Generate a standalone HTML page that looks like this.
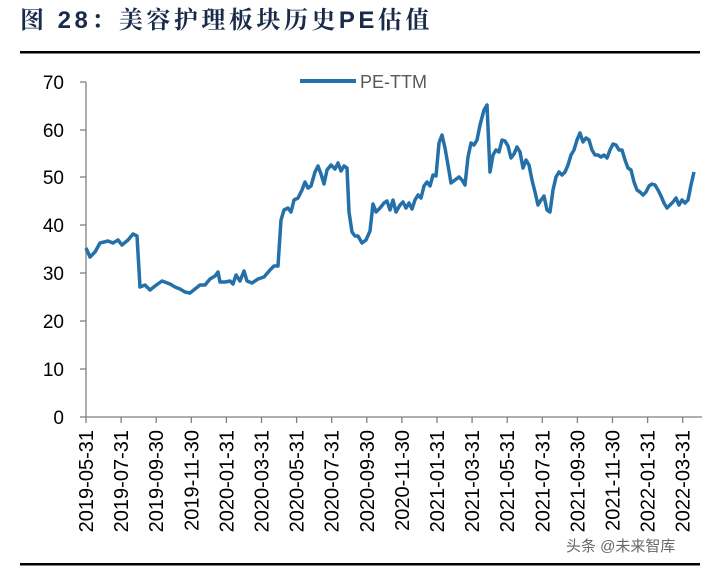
<!DOCTYPE html>
<html><head><meta charset="utf-8"><style>
body{margin:0;background:#fff;width:713px;height:569px;overflow:hidden}
</style></head><body>
<svg width="713" height="569" xmlns="http://www.w3.org/2000/svg" font-family="Liberation Sans, Arial, sans-serif">
<text x="20" y="28" font-size="24" font-weight="bold" fill="#1a2b4a" letter-spacing="3.5" font-family="Liberation Sans, Noto Serif CJK SC, Noto Sans CJK SC, sans-serif">图 28：美容护理板块历史PE估值</text>
<rect x="20" y="51" width="680" height="2.5" fill="#000"/>
<rect x="20" y="563" width="680" height="2.5" fill="#000"/>
<g stroke="#7f7f7f" stroke-width="1.3">
<line x1="86" y1="82" x2="86" y2="417"/>
<line x1="86" y1="417" x2="702" y2="417"/>
<line x1="80" y1="82" x2="86" y2="82"/><line x1="80" y1="130" x2="86" y2="130"/><line x1="80" y1="177" x2="86" y2="177"/><line x1="80" y1="225" x2="86" y2="225"/><line x1="80" y1="273" x2="86" y2="273"/><line x1="80" y1="321" x2="86" y2="321"/><line x1="80" y1="369" x2="86" y2="369"/><line x1="80" y1="417" x2="86" y2="417"/>
<line x1="86" y1="417" x2="86" y2="423"/><line x1="121.1" y1="417" x2="121.1" y2="423"/><line x1="156.2" y1="417" x2="156.2" y2="423"/><line x1="191.3" y1="417" x2="191.3" y2="423"/><line x1="226.4" y1="417" x2="226.4" y2="423"/><line x1="261.5" y1="417" x2="261.5" y2="423"/><line x1="296.6" y1="417" x2="296.6" y2="423"/><line x1="331.7" y1="417" x2="331.7" y2="423"/><line x1="366.8" y1="417" x2="366.8" y2="423"/><line x1="401.9" y1="417" x2="401.9" y2="423"/><line x1="437" y1="417" x2="437" y2="423"/><line x1="472.1" y1="417" x2="472.1" y2="423"/><line x1="507.2" y1="417" x2="507.2" y2="423"/><line x1="542.3" y1="417" x2="542.3" y2="423"/><line x1="577.4" y1="417" x2="577.4" y2="423"/><line x1="612.5" y1="417" x2="612.5" y2="423"/><line x1="647.6" y1="417" x2="647.6" y2="423"/><line x1="682.7" y1="417" x2="682.7" y2="423"/>
</g>
<g font-size="19" fill="#000" text-anchor="end">
<text x="64" y="89">70</text><text x="64" y="137">60</text><text x="64" y="184">50</text><text x="64" y="232">40</text><text x="64" y="280">30</text><text x="64" y="328">20</text><text x="64" y="376">10</text><text x="64" y="424">0</text>
</g>
<g font-size="20" fill="#000" text-anchor="end">
<text transform="translate(93,430) rotate(-90)">2019-05-31</text>
<text transform="translate(128.1,430) rotate(-90)">2019-07-31</text>
<text transform="translate(163.2,430) rotate(-90)">2019-09-30</text>
<text transform="translate(198.3,430) rotate(-90)">2019-11-30</text>
<text transform="translate(233.4,430) rotate(-90)">2020-01-31</text>
<text transform="translate(268.5,430) rotate(-90)">2020-03-31</text>
<text transform="translate(303.6,430) rotate(-90)">2020-05-31</text>
<text transform="translate(338.7,430) rotate(-90)">2020-07-31</text>
<text transform="translate(373.8,430) rotate(-90)">2020-09-30</text>
<text transform="translate(408.9,430) rotate(-90)">2020-11-30</text>
<text transform="translate(444,430) rotate(-90)">2021-01-31</text>
<text transform="translate(479.1,430) rotate(-90)">2021-03-31</text>
<text transform="translate(514.2,430) rotate(-90)">2021-05-31</text>
<text transform="translate(549.3,430) rotate(-90)">2021-07-31</text>
<text transform="translate(584.4,430) rotate(-90)">2021-09-30</text>
<text transform="translate(619.5,430) rotate(-90)">2021-11-30</text>
<text transform="translate(654.6,430) rotate(-90)">2022-01-31</text>
<text transform="translate(689.7,430) rotate(-90)">2022-03-31</text>
</g>
<line x1="300" y1="81" x2="356" y2="81" stroke="#2470a8" stroke-width="4"/>
<text x="360" y="88" font-size="18" fill="#595959">PE-TTM</text>
<polyline fill="none" stroke="#2470a8" stroke-width="3.5" stroke-linejoin="round" points="86,248 90,257 95,252 100,243 108,241 113,243 118,240 122,245 128,240 133,234 137,236 140,287 145,285 150,290 155,286 162,281 170,284 175,287 180,289 185,292 190,293 195,289 200,285 205,285 210,279 215,276 218,272 220,282 225,282 230,281 233,284 236,275 240,281 244,271 247,281 252,283 258,279 264,277 270,270 274,266 278,266 281,220 284,210 288,208 291,212 294,200 298,198 302,190 305,182 308,188 311,186 315,172 318,166 321,174 324,184 327,170 331,165 335,169 338,163 341,171 344,166 347,168 349,212 352,232 355,236 358,236 362,243 366,240 370,231 373,204 376,212 380,208 384,203 387,201 390,210 393,200 396,212 400,205 403,202 406,208 409,203 412,209 415,200 418,195 421,198 424,186 427,182 430,186 433,175 436,176 439,143 442,135 445,148 448,165 451,183 455,180 459,177 462,180 465,185 468,157 471,143 474,145 477,140 480,125 484,110 487,105 490,172 493,155 496,150 499,152 502,140 505,141 508,146 511,158 514,154 517,147 520,152 523,168 526,160 529,165 532,180 535,192 538,205 541,200 544,196 547,210 550,212 553,190 556,177 559,172 562,175 565,172 568,165 571,155 574,150 577,140 580,133 583,142 586,138 589,140 592,150 595,155 598,155 601,157 604,155 607,158 610,150 613,144 616,145 619,150 622,150 625,160 628,168 631,170 634,182 637,190 640,192 643,195 646,192 649,186 652,184 655,185 658,190 661,196 664,203 667,208 670,205 673,202 676,198 679,205 682,200 685,203 688,200 691,185 694,172"/>
<text x="566" y="551" font-size="15" fill="#666" font-family="Liberation Sans, Noto Sans CJK SC, sans-serif">头条 @未来智库</text>
</svg>
</body></html>
